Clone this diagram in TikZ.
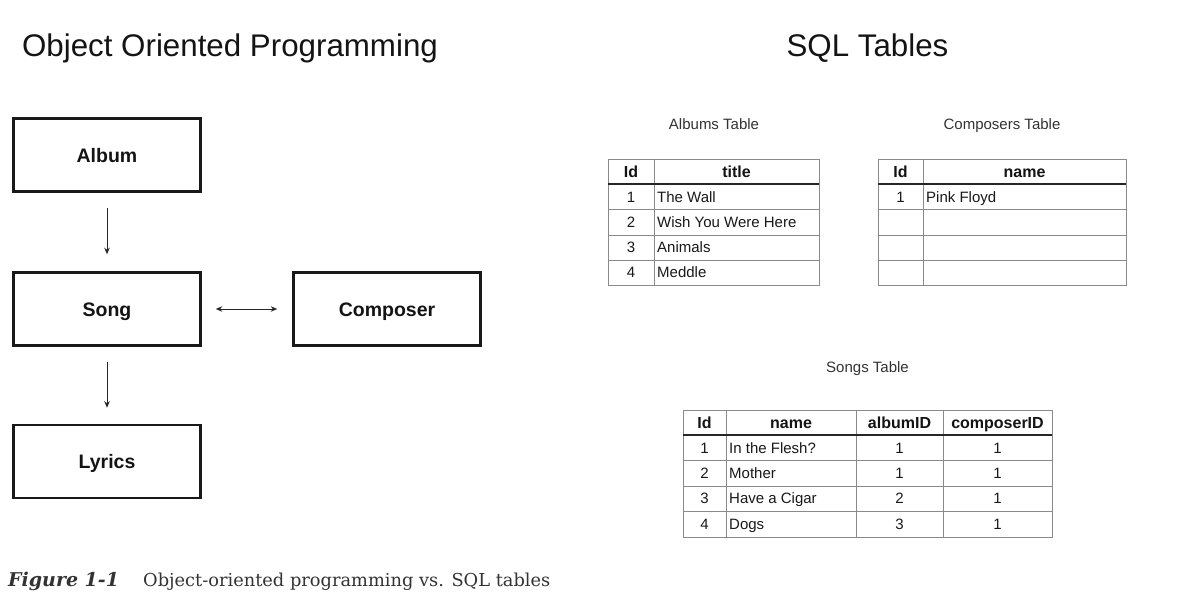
\documentclass[tikz,border=0pt]{standalone}
\usepackage{fontspec}
\setmainfont{Liberation Sans}
\newfontfamily\capfont{DejaVu Serif}
\usetikzlibrary{arrows.meta}
\definecolor{capgray}{HTML}{333333}
\definecolor{linegray}{HTML}{8A8A8A}
\begin{document}
\begin{tikzpicture}[x=1pt,y=-1pt,
  box/.style={draw=black!90, line width=2.6pt, minimum width=187pt, minimum height=73pt, inner sep=0pt,
              font=\fontsize{19.5}{22}\selectfont\bfseries, text=black!92, text height=14pt, text depth=0pt},
  tip/.tip={Stealth[length=6.5pt,width=5.5pt]},
  conn/.style={line width=0.9pt, black!85, -tip},
  title/.style={font=\fontsize{31.3}{34}\selectfont, text=black!92, inner sep=0pt, text height=22.5pt, text depth=0pt},
  tabtitle/.style={font=\fontsize{15}{18}\selectfont, text=black!80, inner sep=0pt, text height=10.8pt, text depth=0pt},
  cell/.style={font=\fontsize{15}{18}\selectfont, text=black!90, inner sep=0pt, text height=10.8pt, text depth=0pt},
  hd/.style={font=\fontsize{16}{18}\selectfont\bfseries, text=black!92, inner sep=0pt, text height=11.5pt, text depth=0pt},
  tline/.style={draw=linegray, line width=1pt},
  hline/.style={draw=black!85, line width=1.3pt},
]
\useasboundingbox (0,0) rectangle (1188,610);
\fill[white] (0,0) rectangle (1188,610);

% titles
\node[title] (oopt) at (230,45) {Object Oriented Programming};
\node[title] (sqlt) at (867.5,45) {SQL Tables};

% OOP boxes
\node[box] (album) at (107,155) {Album};
\node[box] (song) at (107,309) {Song};
\node[box] (lyrics) at (107,461.5) {Lyrics};
\node[box] (composer) at (387,309) {Composer};

\draw[conn, shorten <=15pt, shorten >=17pt] (album.south) -- (song.north);
\draw[conn, shorten <=15pt, shorten >=16pt] (song.south) -- (lyrics.north);
\draw[conn, tip-tip, shorten <=14pt, shorten >=15pt] (song.east) -- (composer.west);

% Albums table
\node[tabtitle] (albt) at (714,124) {Albums Table};
\draw[tline] (608,159) rectangle (819,285);
\draw[tline] (654,159) -- (654,285);
\foreach \y in {209,235,260} \draw[tline] (608,\y) -- (819,\y);
\draw[hline] (608,184) -- (819,184);
\node[hd] (a-h1) at (631,172) {Id};
\node[hd] (a-h2) at (736.5,172) {title};
\node[cell] (a-1) at (631,197) {1};
\node[cell] (a-2) at (631,222) {2};
\node[cell] (a-3) at (631,247.5) {3};
\node[cell] (a-4) at (631,272.5) {4};
\node[cell, anchor=west] (a-t1) at (657,197) {The Wall};
\node[cell, anchor=west] (a-t2) at (657,222) {Wish You Were Here};
\node[cell, anchor=west] (a-t3) at (657,247.5) {Animals};
\node[cell, anchor=west] (a-t4) at (657,272.5) {Meddle};

% Composers table
\node[tabtitle] (comt) at (1002,124) {Composers Table};
\draw[tline] (878,159) rectangle (1126,285);
\draw[tline] (923,159) -- (923,285);
\foreach \y in {209,235,260} \draw[tline] (878,\y) -- (1126,\y);
\draw[hline] (878,184) -- (1126,184);
\node[hd] (c-h1) at (900.5,172) {Id};
\node[hd] (c-h2) at (1024.5,172) {name};
\node[cell] (c-1) at (900.5,197) {1};
\node[cell, anchor=west] (c-n1) at (926,197) {Pink Floyd};

% Songs table
\node[tabtitle] (sont) at (867.5,367) {Songs Table};
\draw[tline] (683,410) rectangle (1052,537);
\foreach \x in {726,856,943} \draw[tline] (\x,410) -- (\x,537);
\foreach \y in {460.5,486,511} \draw[tline] (683,\y) -- (1052,\y);
\draw[hline] (683,435) -- (1052,435);
\node[hd] (s-h1) at (704.5,422.5) {Id};
\node[hd] (s-h2) at (791,422.5) {name};
\node[hd] (s-h3) at (899.5,422.5) {albumID};
\node[hd] (s-h4) at (997.5,422.5) {composerID};
\foreach \y/\i/\n/\a in {448/1/In the Flesh?/1, 473/2/Mother/1, 498.5/3/Have a Cigar/2, 524/4/Dogs/3}{
  \node[cell] (s-id\i) at (704.5,\y) {\i};
  \node[cell, anchor=west] (s-n\i) at (729,\y) {\n};
  \node[cell] (s-a\i) at (899.5,\y) {\a};
  \node[cell] (s-c\i) at (997.5,\y) {1};
}

% caption
\node[anchor=west, inner sep=0pt, font=\capfont\fontsize{19}{24}\selectfont\bfseries\itshape, text=capgray, text height=13.8pt, text depth=0pt] (figl) at (8,580) {Figure 1-1};
\node[anchor=west, inner sep=0pt, font=\capfont\fontsize{17.8}{22}\selectfont, text=capgray, text height=13pt, text depth=0pt] (figc) at (143,580) {Object-oriented programming vs. SQL tables};
\end{tikzpicture}
\end{document}
